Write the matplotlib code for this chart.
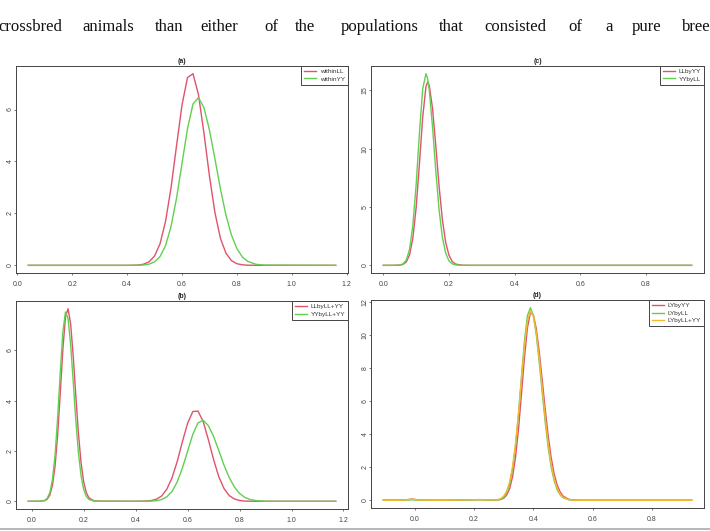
import matplotlib
matplotlib.use("Agg")
import matplotlib.pyplot as plt
from matplotlib.lines import Line2D

# body text line above the figure (justified words, x in pixels)
words  = ["crossbred", "animals", "than", "either", "of", "the", "populations",
          "that", "consisted", "of", "a", "pure", "breed"]
word_x = [-2, 82, 155, 200, 264, 295, 341, 439, 484, 568, 605, 632, 682]

# (a) within-breed densities
xa = [0.04, 0.40, 0.44, 0.46, 0.48, 0.50, 0.52, 0.54, 0.56, 0.58, 0.60, 0.62, 0.64,
      0.66, 0.68, 0.70, 0.72, 0.74, 0.76, 0.78, 0.80, 0.82, 0.84, 0.87, 0.90, 1.16]
withinLL = [0, 0, 0.01, 0.044, 0.135, 0.36, 0.83, 1.69, 2.98, 4.60, 6.17, 7.23, 7.38,
            6.57, 5.09, 3.44, 2.03, 1.04, 0.47, 0.18, 0.062, 0.019, 0.005, 0, 0, 0]
withinYY = [0, 0, 0.004, 0.014, 0.046, 0.134, 0.34, 0.76, 1.49, 2.58, 3.92, 5.26, 6.21,
            6.46, 6.07, 5.21, 4.10, 2.95, 1.94, 1.17, 0.64, 0.32, 0.149, 0.039, 0.009, 0]

# (c) crossbred densities
xc = [0.0, 0.03, 0.05, 0.06, 0.07, 0.08, 0.09, 0.10, 0.11, 0.12, 0.13, 0.135, 0.14,
      0.15, 0.16, 0.17, 0.18, 0.19, 0.20, 0.21, 0.22, 0.24, 0.26, 0.30, 0.94]
LLbyYY = [0, 0, 0.017, 0.077, 0.29, 0.90, 2.32, 4.93, 8.70, 12.70, 15.34, 15.71, 15.44,
          13.46, 10.23, 6.78, 3.92, 1.97, 0.87, 0.33, 0.11, 0.008, 0, 0, 0]
YYbyLL = [0, 0, 0.026, 0.12, 0.45, 1.38, 3.42, 6.90, 11.33, 15.13, 16.44, 16.02, 15.04,
          11.87, 8.08, 4.75, 2.40, 1.05, 0.39, 0.13, 0.036, 0.002, 0, 0, 0]

# (b) mixed reference populations
xb = [-0.013, 0.03, 0.05, 0.06, 0.07, 0.08, 0.09, 0.10, 0.11, 0.12, 0.13, 0.14, 0.15,
      0.16, 0.17, 0.18, 0.19, 0.20, 0.21, 0.22, 0.24, 0.27, 0.40, 0.44, 0.46, 0.48,
      0.50, 0.52, 0.54, 0.56, 0.58, 0.60, 0.62, 0.64, 0.66, 0.68, 0.70, 0.72, 0.74,
      0.76, 0.78, 0.80, 0.82, 0.84, 0.87, 0.90, 0.95, 1.17]
LLbyLLYY = [0, 0.001, 0.025, 0.085, 0.25, 0.64, 1.40, 2.64, 4.30, 6.04, 7.33, 7.66, 7.05,
            5.76, 4.18, 2.69, 1.54, 0.78, 0.35, 0.14, 0.016, 0.005, 0.002, 0.009, 0.029,
            0.084, 0.21, 0.48, 0.93, 1.58, 2.37, 3.10, 3.57, 3.59, 3.17, 2.45, 1.66, 0.98,
            0.51, 0.23, 0.093, 0.032, 0.010, 0.003, 0, 0, 0, 0]
YYbyLLYY = [0, 0.002, 0.035, 0.12, 0.35, 0.87, 1.84, 3.33, 5.13, 6.73, 7.53, 7.27, 6.23,
            4.74, 3.20, 1.92, 1.02, 0.48, 0.20, 0.076, 0.007, 0.003, 0.001, 0.002, 0.008,
            0.024, 0.070, 0.18, 0.39, 0.77, 1.32, 1.99, 2.66, 3.12, 3.22, 3.01, 2.58, 2.02,
            1.44, 0.95, 0.57, 0.31, 0.156, 0.071, 0.019, 0.004, 0, 0]

# (d) LY crossbreds
xd = [-0.107, -0.05, -0.02, -0.01, 0.0, 0.02, 0.10, 0.18, 0.22, 0.26, 0.28, 0.29, 0.30,
      0.31, 0.32, 0.33, 0.34, 0.35, 0.36, 0.37, 0.38, 0.39, 0.40, 0.41, 0.42, 0.43,
      0.44, 0.45, 0.46, 0.47, 0.48, 0.49, 0.50, 0.52, 0.54, 0.57, 0.60, 0.935]
LYbyYY = [0, 0.005, 0.05, 0.07, 0.05, 0.01, 0, 0.03, 0.04, 0.02, 0.025, 0.05, 0.13,
          0.32, 0.71, 1.44, 2.64, 4.35, 6.46, 8.65, 10.43, 11.34, 11.21, 10.36, 8.96, 7.26,
          5.51, 3.91, 2.60, 1.62, 0.95, 0.52, 0.26, 0.057, 0.009, 0, 0, 0]
LYbyLL = [0.02, 0.01, 0.02, 0.03, 0.02, 0.005, 0, 0.02, 0.03, 0.01, 0.03, 0.071, 0.19,
          0.45, 0.98, 1.90, 3.34, 5.28, 7.52, 9.64, 11.16, 11.64, 11.16, 9.99, 8.34, 6.50,
          4.73, 3.21, 2.03, 1.20, 0.66, 0.34, 0.16, 0.031, 0.004, 0, 0, 0]
LYbyLLYY = [0, 0.005, 0.05, 0.07, 0.05, 0.01, 0, 0.03, 0.04, 0.02, 0.045, 0.106, 0.26,
            0.56, 1.13, 2.07, 3.47, 5.29, 7.37, 9.35, 10.83, 11.45, 11.13, 10.10, 8.56,
            6.77, 4.99, 3.43, 2.20, 1.32, 0.74, 0.38, 0.19, 0.036, 0.005, 0, 0, 0]

RED, GREEN, GOLD = "#DF536B", "#61D04F", "#F5B82E"
W, H = 710, 531

plt.rcParams["font.family"] = ["Liberation Sans", "DejaVu Sans"]
fig = plt.figure(figsize=(W / 100, H / 100), dpi=100)


def axes_px(left, top, right, bottom):
    return fig.add_axes([left / W, 1 - bottom / H, (right - left) / W, (bottom - top) / H])


def r_lim(values):
    lo, hi = min(values), max(values)
    pad = 0.04 * (hi - lo)
    return lo - pad, hi + pad


def panel(ax, title, x, series, labels, colors, xticks, yticks):
    for y, lab, col in zip(series, labels, colors):
        ax.plot(x, y, color=col, lw=1.0, label=lab)
    ax.set_xlim(*r_lim(x))
    ax.set_ylim(*r_lim([v for y in series for v in y] + [0]))
    ax.set_xticks(xticks)
    ax.set_xticklabels([f"{t:.1f}" for t in xticks])
    ax.set_yticks(yticks)
    ax.set_yticklabels([str(t) for t in yticks], rotation=90, va="center")
    ax.tick_params(axis="both", labelsize=5, colors="#444444", length=1.4, width=0.5)
    ax.tick_params(axis="x", pad=4.5)
    ax.tick_params(axis="y", pad=0.4)
    for s in ax.spines.values():
        s.set_color("#444444")
        s.set_linewidth(0.7)
    ax.set_title(title, fontsize=5, fontweight="bold", pad=2.2, color="#222222")
    leg = ax.legend(loc="upper right", borderaxespad=0, fontsize=4.6, fancybox=False,
                    framealpha=1, edgecolor="#444444", handlelength=1.9,
                    handletextpad=0.6, borderpad=0.45, labelspacing=0.3)
    leg.get_frame().set_linewidth(0.7)
    for t in leg.get_texts():
        t.set_color("#333333")


ax_a = axes_px(16, 66, 348, 273)
panel(ax_a, "(a)", xa, [withinLL, withinYY], ["withinLL", "withinYY"], [RED, GREEN],
      [0.0, 0.2, 0.4, 0.6, 0.8, 1.0, 1.2], [0, 2, 4, 6])

ax_c = axes_px(371, 66, 704, 273)
panel(ax_c, "(c)", xc, [LLbyYY, YYbyLL], ["LLbyYY", "YYbyLL"], [RED, GREEN],
      [0.0, 0.2, 0.4, 0.6, 0.8], [0, 5, 10, 15])

ax_b = axes_px(16, 301, 348, 509)
panel(ax_b, "(b)", xb, [LLbyLLYY, YYbyLLYY], ["LLbyLL+YY", "YYbyLL+YY"], [RED, GREEN],
      [0.0, 0.2, 0.4, 0.6, 0.8, 1.0, 1.2], [0, 2, 4, 6])

ax_d = axes_px(371, 300, 704, 508)
panel(ax_d, "(d)", xd, [LYbyYY, LYbyLL, LYbyLLYY], ["LYbyYY", "LYbyLL", "LYbyLL+YY"],
      [RED, GREEN, GOLD], [0.0, 0.2, 0.4, 0.6, 0.8], [0, 2, 4, 6, 8, 10, 12])

# text line of the surrounding page
for w, px in zip(words, word_x):
    fig.text(px / W, 1 - 31 / H, w, fontsize=12, family="Liberation Serif",
             ha="left", va="baseline", color="#111111")

# page rule at the bottom
fig.add_artist(Line2D([0, 1], [2.5 / H, 2.5 / H], color="#aaaaaa", lw=1.2))

fig.savefig("out.png", dpi=100)
